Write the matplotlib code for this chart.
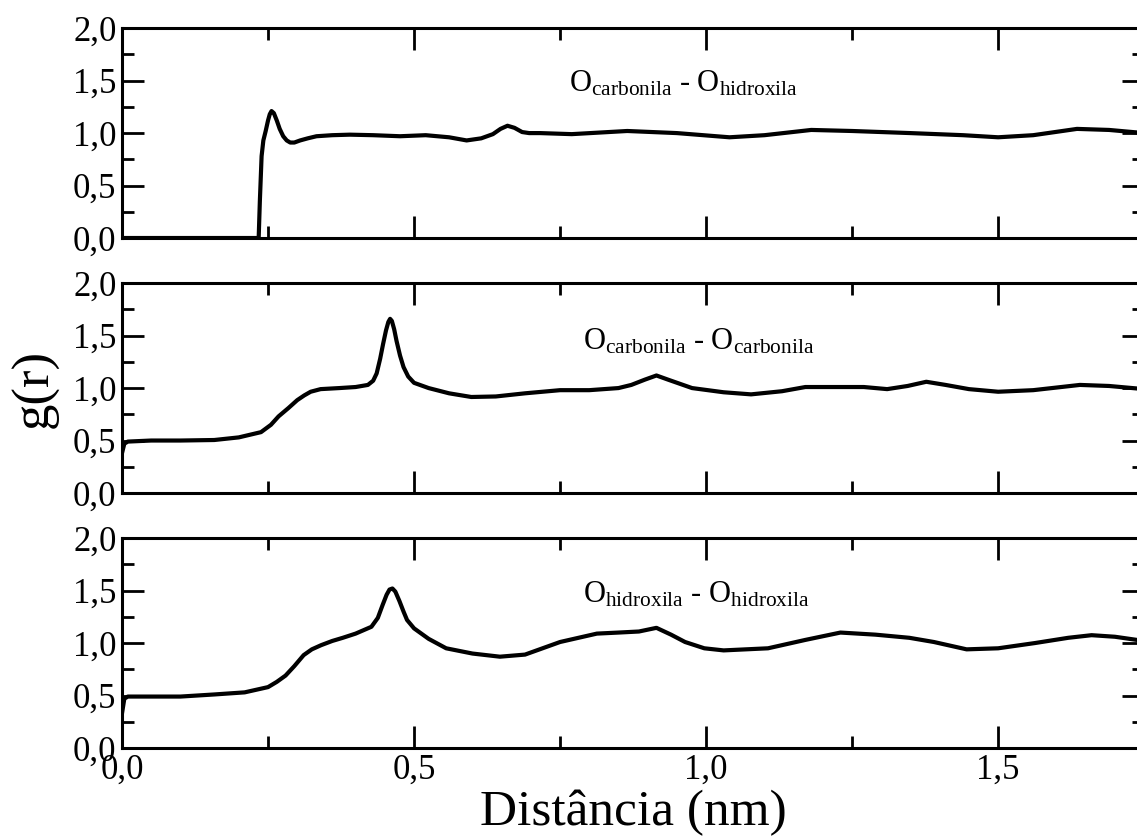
import numpy as np
import matplotlib
matplotlib.use("Agg")
import matplotlib.pyplot as plt
from matplotlib.ticker import MultipleLocator, FuncFormatter

plt.rcParams['font.family'] = ['Liberation Serif', 'DejaVu Serif']
plt.rcParams['mathtext.fontset'] = 'custom'
plt.rcParams['mathtext.rm'] = 'Liberation Serif'
plt.rcParams['mathtext.it'] = 'Liberation Serif:italic'

# g(r) curves (r in nm)
r_co_oh = [0.0, 0.234, 0.236, 0.239, 0.242, 0.246, 0.250, 0.253, 0.256, 0.260, 0.265,
           0.270, 0.276, 0.282, 0.288, 0.295, 0.305, 0.318, 0.333, 0.360, 0.390, 0.430,
           0.476, 0.520, 0.560, 0.590, 0.615, 0.635, 0.648, 0.660, 0.672, 0.685, 0.697,
           0.716, 0.770, 0.865, 0.950, 1.040, 1.100, 1.180, 1.250, 1.350, 1.440, 1.500,
           1.560, 1.635, 1.690, 1.750]
g_co_oh = [0.0, 0.0, 0.35, 0.78, 0.93, 1.02, 1.12, 1.18, 1.21, 1.19, 1.12,
           1.04, 0.97, 0.93, 0.91, 0.91, 0.93, 0.95, 0.97, 0.98, 0.985, 0.98,
           0.97, 0.98, 0.96, 0.93, 0.95, 0.99, 1.04, 1.07, 1.05, 1.01, 1.00,
           1.00, 0.99, 1.02, 1.00, 0.96, 0.98, 1.03, 1.02, 1.00, 0.98, 0.96,
           0.98, 1.04, 1.03, 1.00]

r_co_co = [0.0, 0.004, 0.010, 0.050, 0.100, 0.158, 0.200, 0.238, 0.255, 0.268, 0.285,
           0.300, 0.312, 0.323, 0.340, 0.372, 0.400, 0.421, 0.430, 0.436, 0.442, 0.447,
           0.452, 0.456, 0.459, 0.462, 0.466, 0.470, 0.476, 0.482, 0.490, 0.500, 0.525,
           0.560, 0.598, 0.640, 0.690, 0.750, 0.800, 0.850, 0.872, 0.895, 0.915, 0.935,
           0.976, 1.030, 1.077, 1.130, 1.170, 1.270, 1.310, 1.345, 1.377, 1.410, 1.450,
           1.500, 1.560, 1.640, 1.690, 1.750]
g_co_co = [0.38, 0.47, 0.49, 0.50, 0.50, 0.505, 0.53, 0.58, 0.65, 0.73, 0.81,
           0.885, 0.93, 0.965, 0.99, 1.00, 1.01, 1.03, 1.07, 1.14, 1.28, 1.42,
           1.55, 1.63, 1.66, 1.64, 1.56, 1.45, 1.31, 1.20, 1.11, 1.05, 1.00,
           0.95, 0.915, 0.92, 0.95, 0.98, 0.98, 1.00, 1.03, 1.08, 1.12, 1.08,
           1.00, 0.96, 0.94, 0.97, 1.01, 1.01, 0.99, 1.02, 1.06, 1.03, 0.99,
           0.965, 0.98, 1.03, 1.02, 0.99]

r_oh_oh = [0.0, 0.004, 0.010, 0.100, 0.158, 0.210, 0.250, 0.265, 0.280, 0.295, 0.311,
           0.325, 0.341, 0.360, 0.378, 0.400, 0.427, 0.438, 0.446, 0.453, 0.458, 0.463,
           0.468, 0.475, 0.482, 0.488, 0.500, 0.525, 0.555, 0.600, 0.647, 0.690, 0.750,
           0.813, 0.850, 0.885, 0.915, 0.940, 0.964, 0.997, 1.030, 1.106, 1.170, 1.230,
           1.290, 1.348, 1.390, 1.446, 1.500, 1.563, 1.620, 1.660, 1.700, 1.750]
g_oh_oh = [0.33, 0.47, 0.49, 0.49, 0.51, 0.53, 0.58, 0.63, 0.69, 0.78, 0.885,
           0.94, 0.98, 1.02, 1.05, 1.09, 1.155, 1.24, 1.36, 1.46, 1.51, 1.52,
           1.49, 1.40, 1.30, 1.22, 1.14, 1.04, 0.95, 0.90, 0.87, 0.89, 1.01,
           1.09, 1.10, 1.11, 1.145, 1.08, 1.01, 0.95, 0.93, 0.95, 1.03, 1.10,
           1.08, 1.05, 1.01, 0.94, 0.95, 1.00, 1.05, 1.075, 1.06, 1.02]

labels = [r'O$_{\mathrm{carbonila}}$ - O$_{\mathrm{hidroxila}}$',
          r'O$_{\mathrm{carbonila}}$ - O$_{\mathrm{carbonila}}$',
          r'O$_{\mathrm{hidroxila}}$ - O$_{\mathrm{hidroxila}}$']
label_pos = [(0.765, 1.40), (0.79, 1.37), (0.79, 1.39)]

series = [(r_co_oh, g_co_oh), (r_co_co, g_co_co), (r_oh_oh, g_oh_oh)]

fig = plt.figure(figsize=(11.37, 8.36), dpi=100)
bottoms = [0.7153, 0.4103, 0.1053]
comma = FuncFormatter(lambda v, p: ("%.1f" % v).replace('.', ','))

axes = []
for i, (r, g) in enumerate(series):
    ax = fig.add_axes([0.1073, bottoms[i], 0.899, 0.251])
    ax.plot(r, g, '-', color='black', lw=3.0)
    ax.set_xlim(0, 1.75)
    ax.set_ylim(0, 2.0)
    ax.xaxis.set_major_locator(MultipleLocator(0.5))
    ax.xaxis.set_minor_locator(MultipleLocator(0.25))
    ax.yaxis.set_major_locator(MultipleLocator(0.5))
    ax.yaxis.set_minor_locator(MultipleLocator(0.25))
    ax.tick_params(which='both', direction='in', top=True, right=True, width=2.0)
    ax.tick_params(which='major', length=16)
    ax.tick_params(which='minor', length=8.5)
    ax.tick_params(axis='both', labelsize=25, pad=4)
    ax.yaxis.set_major_formatter(comma)
    ax.xaxis.set_major_formatter(comma)
    for s in ax.spines.values():
        s.set_linewidth(2.2)
    if i < 2:
        ax.tick_params(labelbottom=False)
    ax.text(label_pos[i][0], label_pos[i][1], labels[i], fontsize=22)
    axes.append(ax)

axes[1].set_ylabel('g(r)', fontsize=38)
axes[1].yaxis.set_label_coords(-0.062, 0.5)
axes[2].set_xlabel('Distância (nm)', fontsize=37, labelpad=2)

plt.savefig('out.png', dpi=100)
